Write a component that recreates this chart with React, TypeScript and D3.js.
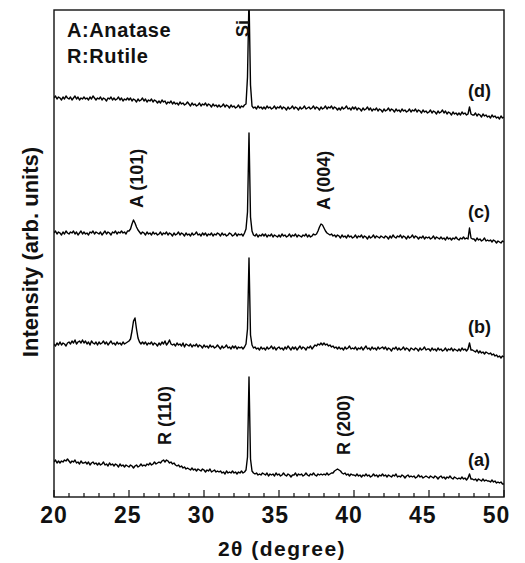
import React, { useRef, useEffect } from "react";
import * as d3 from "d3";

// scan: 20-50 deg, 0.1 deg step (one row = one degree)
const scanStart = 20;
const scanStep = 0.1;

// intensities (arb. units, traces already offset)
const traceA = [
  35, 37, 34, 36, 34, 36, 35, 37, 36, 38,
  36, 34, 36, 35, 37, 34, 35, 33, 36, 34,
  34, 35, 33, 35, 32, 34, 35, 33, 34, 32,
  34, 32, 33, 35, 32, 33, 31, 34, 32, 33,
  31, 33, 32, 30, 33, 31, 32, 30, 32, 31,
  30, 32, 31, 29, 31, 32, 30, 31, 33, 31,
  32, 31, 33, 32, 34, 32, 33, 35, 33, 34,
  35, 34, 36, 37, 35, 37, 36, 34, 35, 33,
  34, 32, 31, 32, 30, 31, 29, 30, 28, 29,
  28, 27, 29, 27, 28, 26, 28, 27, 26, 28,
  27, 25, 27, 26, 28, 25, 26, 27, 25, 26,
  25, 26, 24, 25, 23, 26, 24, 25, 24, 26,
  24, 25, 23, 25, 24, 26, 24, 25, 27, 40,
  120, 38, 26, 24, 23, 24, 22, 23, 22, 24,
  23, 22, 24, 21, 23, 22, 23, 21, 24, 22,
  23, 21, 22, 24, 22, 21, 23, 22, 20, 22,
  22, 24, 21, 23, 22, 23, 21, 22, 24, 22,
  21, 23, 22, 24, 22, 21, 23, 22, 23, 22,
  23, 22, 24, 22, 23, 24, 24, 26, 27, 28,
  27, 26, 24, 23, 24, 22, 23, 21, 23, 22,
  22, 21, 23, 21, 22, 20, 22, 21, 23, 21,
  22, 20, 21, 23, 21, 22, 20, 22, 21, 23,
  21, 22, 20, 22, 21, 20, 22, 21, 23, 20,
  21, 20, 22, 21, 19, 21, 22, 20, 21, 20,
  21, 19, 20, 22, 20, 21, 19, 20, 21, 20,
  19, 21, 20, 19, 21, 20, 18, 20, 21, 19,
  20, 18, 20, 19, 21, 19, 18, 20, 19, 18,
  19, 18, 20, 18, 19, 17, 19, 23, 18, 18,
  17, 18, 16, 18, 17, 16, 18, 16, 17, 16,
  16, 15, 17, 15, 16, 14, 15, 14, 15, 13,
  13,
];

const traceB = [
  153, 151, 154, 152, 155, 152, 154, 153, 151, 154,
  155, 153, 156, 154, 157, 153, 155, 156, 154, 157,
  154, 156, 153, 155, 152, 156, 154, 153, 155, 152,
  155, 153, 154, 156, 153, 155, 152, 154, 156, 153,
  154, 152, 155, 153, 154, 152, 155, 153, 154, 155,
  156, 158, 166, 176, 179, 168, 159, 155, 153, 155,
  153, 155, 152, 154, 153, 155, 152, 154, 153, 151,
  154, 152, 155, 153, 156, 152, 154, 157, 153, 152,
  153, 151, 154, 152, 153, 151, 154, 150, 153, 152,
  151, 153, 150, 152, 151, 153, 150, 152, 151, 149,
  152, 150, 151, 149, 152, 150, 151, 149, 150, 152,
  150, 148, 151, 149, 150, 152, 149, 150, 148, 151,
  149, 151, 148, 150, 149, 150, 148, 150, 153, 168,
  239, 162, 152, 149, 150, 148, 149, 147, 150, 148,
  149, 147, 150, 148, 149, 151, 148, 150, 147, 149,
  150, 148, 149, 147, 150, 148, 151, 149, 147, 150,
  148, 150, 147, 149, 151, 148, 150, 149, 147, 150,
  149, 151, 148, 150, 152, 151, 153, 152, 154, 152,
  154, 152, 153, 151, 152, 150, 151, 149, 150, 148,
  150, 148, 149, 147, 150, 148, 149, 151, 148, 149,
  148, 150, 147, 149, 148, 150, 147, 149, 151, 148,
  149, 147, 150, 148, 149, 147, 150, 148, 149, 150,
  148, 150, 147, 149, 148, 146, 149, 148, 150, 147,
  149, 147, 148, 150, 147, 149, 148, 146, 149, 148,
  147, 149, 148, 146, 149, 147, 148, 150, 147, 148,
  148, 146, 149, 147, 148, 146, 149, 147, 148, 146,
  147, 149, 146, 148, 147, 149, 146, 148, 147, 146,
  148, 146, 149, 147, 148, 146, 148, 154, 147, 147,
  146, 145, 147, 144, 146, 144, 145, 143, 145, 144,
  143, 144, 142, 143, 141, 142, 140, 141, 139, 141,
  140,
];

const traceC = [
  264, 266, 263, 265, 264, 262, 265, 263, 266, 264,
  263, 265, 264, 266, 263, 265, 262, 264, 266, 263,
  265, 263, 264, 262, 265, 264, 266, 263, 265, 264,
  263, 265, 262, 264, 266, 263, 265, 264, 262, 265,
  264, 266, 263, 265, 264, 266, 264, 265, 263, 266,
  266, 268, 273, 277, 274, 270, 267, 265, 263, 265,
  264, 262, 265, 263, 264, 262, 265, 263, 264, 262,
  263, 265, 262, 264, 263, 265, 262, 264, 263, 261,
  264, 262, 263, 265, 262, 264, 263, 261, 264, 262,
  263, 261, 264, 262, 263, 265, 262, 263, 261, 264,
  262, 264, 261, 263, 262, 264, 261, 263, 262, 264,
  263, 261, 264, 262, 263, 261, 262, 264, 263, 261,
  262, 264, 261, 263, 262, 263, 261, 264, 268, 285,
  364, 280, 266, 262, 261, 263, 260, 262, 261, 263,
  261, 263, 260, 262, 261, 263, 260, 262, 261, 260,
  262, 260, 263, 261, 262, 260, 261, 263, 260, 262,
  261, 263, 260, 262, 261, 260, 262, 261, 263, 260,
  262, 260, 261, 263, 262, 263, 266, 270, 273, 272,
  269, 266, 264, 263, 262, 263, 261, 262, 260, 262,
  261, 259, 262, 260, 261, 259, 262, 260, 261, 259,
  260, 262, 259, 261, 260, 262, 259, 261, 260, 258,
  261, 259, 260, 262, 259, 261, 260, 259, 261, 260,
  259, 261, 260, 258, 261, 259, 262, 260, 259, 261,
  260, 262, 259, 261, 260, 258, 261, 259, 260, 262,
  259, 261, 260, 258, 260, 259, 261, 258, 260, 259,
  260, 258, 259, 261, 258, 260, 259, 258, 260, 258,
  259, 257, 260, 258, 259, 257, 259, 258, 260, 258,
  257, 259, 258, 260, 258, 259, 258, 269, 259, 258,
  258, 256, 259, 257, 258, 256, 257, 259, 256, 257,
  256, 257, 255, 257, 256, 254, 256, 255, 254, 256,
  255,
];

const traceD = [
  399, 401, 398, 400, 399, 397, 400, 398, 401, 399,
  398, 400, 397, 399, 401, 398, 400, 397, 399, 398,
  400, 398, 399, 397, 400, 398, 401, 399, 397, 399,
  398, 400, 397, 399, 398, 396, 399, 398, 400, 397,
  399, 397, 398, 400, 397, 399, 396, 398, 397, 399,
  397, 399, 396, 398, 397, 395, 398, 396, 397, 399,
  396, 398, 395, 397, 396, 398, 395, 397, 396, 394,
  396, 394, 397, 395, 396, 393, 395, 394, 396, 393,
  395, 393, 394, 392, 395, 393, 394, 392, 393, 395,
  393, 391, 394, 392, 393, 391, 392, 394, 391, 393,
  392, 394, 391, 393, 392, 390, 393, 391, 392, 390,
  392, 390, 391, 393, 390, 392, 391, 389, 392, 390,
  391, 389, 390, 392, 389, 391, 390, 392, 393, 420,
  500, 412, 391, 389, 390, 388, 391, 389, 390, 388,
  390, 388, 391, 389, 390, 388, 389, 391, 388, 390,
  389, 391, 388, 390, 389, 387, 390, 388, 389, 391,
  388, 390, 389, 387, 390, 388, 389, 391, 388, 389,
  390, 388, 389, 391, 388, 390, 389, 387, 390, 388,
  389, 391, 388, 390, 389, 391, 388, 390, 389, 387,
  389, 387, 390, 388, 389, 391, 388, 389, 387, 390,
  388, 390, 387, 389, 388, 386, 389, 387, 388, 390,
  387, 389, 386, 388, 387, 389, 386, 388, 387, 385,
  388, 386, 387, 389, 386, 388, 387, 385, 388, 386,
  387, 385, 388, 386, 387, 385, 386, 388, 385, 387,
  386, 388, 385, 387, 386, 384, 387, 385, 386, 384,
  385, 387, 384, 386, 385, 383, 386, 384, 385, 387,
  384, 386, 383, 385, 384, 382, 385, 383, 384, 382,
  384, 382, 385, 383, 384, 382, 383, 390, 383, 382,
  382, 384, 381, 383, 382, 380, 383, 381, 382, 380,
  381, 379, 382, 380, 381, 379, 380, 378, 381, 379,
  380,
];

const traces = [traceA, traceB, traceC, traceD];
const traceNames = ["(a)", "(b)", "(c)", "(d)"];
// where each name sits: [2theta, intensity]
const traceNamePos = [
  [47.6, 31],
  [47.6, 164],
  [47.6, 279],
  [47.6, 400],
];

// peak labels: text, 2theta, intensity where the label starts
const peakLabels = [
  { text: "Si", x: 32.6, y: 460 },
  { text: "A (101)", x: 25.5, y: 289 },
  { text: "A (004)", x: 38.0, y: 287 },
  { text: "R (110)", x: 27.4, y: 52 },
  { text: "R (200)", x: 39.3, y: 42 },
];

const phaseLegend = ["A:Anatase", "R:Rutile"];
const xTicks = [20, 25, 30, 35, 40, 45, 50];

const FONT = "'Liberation Sans', Arial, Helvetica, sans-serif";

const App = () => {
  const svgRef = useRef<SVGSVGElement>(null);

  useEffect(() => {
    const width = 525;
    const height = 563;
    const m = { left: 54, right: 21, top: 10, bottom: 66 };
    const x0 = m.left;
    const x1 = width - m.right;
    const y0 = height - m.bottom;
    const y1 = m.top;

    const x = d3.scaleLinear().domain([20, 50]).range([x0, x1]);
    const y = d3.scaleLinear().domain([0, 487]).range([y0, y1]);

    const svg = d3.select(svgRef.current);
    svg.selectAll("*").remove();

    svg
      .append("defs")
      .append("clipPath")
      .attr("id", "plotClip")
      .append("rect")
      .attr("x", x0)
      .attr("y", y1)
      .attr("width", x1 - x0)
      .attr("height", y0 - y1);

    const line = d3
      .line<number>()
      .x((_, i) => x(scanStart + i * scanStep))
      .y((d) => y(d));

    svg
      .append("g")
      .attr("clip-path", "url(#plotClip)")
      .selectAll("path")
      .data(traces)
      .enter()
      .append("path")
      .attr("d", (d) => line(d))
      .attr("fill", "none")
      .attr("stroke", "#000")
      .attr("stroke-width", 1.4)
      .attr("stroke-linejoin", "round");

    // frame
    svg
      .append("rect")
      .attr("x", x0)
      .attr("y", y1)
      .attr("width", x1 - x0)
      .attr("height", y0 - y1)
      .attr("fill", "none")
      .attr("stroke", "#111")
      .attr("stroke-width", 1.4);

    // bottom ticks, pointing inwards
    const minor = d3.range(20, 51, 1);
    svg
      .append("g")
      .selectAll("line")
      .data(minor)
      .enter()
      .append("line")
      .attr("x1", (d) => x(d))
      .attr("x2", (d) => x(d))
      .attr("y1", y0)
      .attr("y2", (d) => (d % 5 === 0 ? y0 - 7 : y0 - 4))
      .attr("stroke", "#111")
      .attr("stroke-width", 1.2);

    svg
      .append("g")
      .selectAll("text")
      .data(xTicks)
      .enter()
      .append("text")
      .attr("x", (d) => x(d) - (d - 20) * 0.25)
      .attr("y", 523)
      .attr("text-anchor", "middle")
      .attr("font-family", FONT)
      .attr("font-weight", "bold")
      .attr("font-size", 23)
      .attr("letter-spacing", 1)
      .attr("fill", "#111")
      .text((d) => d);

    svg
      .append("text")
      .attr("x", 282)
      .attr("y", 556)
      .attr("text-anchor", "middle")
      .attr("font-family", FONT)
      .attr("font-weight", "bold")
      .attr("font-size", 21)
      .attr("letter-spacing", 1.5)
      .attr("fill", "#111")
      .text("2θ (degree)");

    svg
      .append("text")
      .attr("transform", "translate(38,252) rotate(-90)")
      .attr("text-anchor", "middle")
      .attr("font-family", FONT)
      .attr("font-weight", "bold")
      .attr("font-size", 22)
      .attr("fill", "#111")
      .text("Intensity (arb. units)");

    // phase legend
    svg
      .append("g")
      .selectAll("text")
      .data(phaseLegend)
      .enter()
      .append("text")
      .attr("x", 67)
      .attr("y", (_, i) => 37 + i * 26)
      .attr("font-family", FONT)
      .attr("font-weight", "bold")
      .attr("font-size", 20)
      .attr("letter-spacing", 0.6)
      .attr("fill", "#111")
      .text((d) => d);

    // rotated peak labels
    svg
      .append("g")
      .selectAll("text")
      .data(peakLabels)
      .enter()
      .append("text")
      .attr("transform", (d) => `translate(${x(d.x) + 6},${y(d.y)}) rotate(-90)`)
      .attr("font-family", FONT)
      .attr("font-weight", "bold")
      .attr("font-size", 18)
      .attr("fill", "#111")
      .text((d) => d.text);

    // trace names
    svg
      .append("g")
      .selectAll("text")
      .data(traceNames)
      .enter()
      .append("text")
      .attr("x", (_, i) => x(traceNamePos[i][0]))
      .attr("y", (_, i) => y(traceNamePos[i][1]))
      .attr("font-family", FONT)
      .attr("font-weight", "bold")
      .attr("font-size", 18)
      .attr("fill", "#111")
      .text((d) => d);
  }, []);

  return (
    <svg
      ref={svgRef}
      width={525}
      height={563}
      style={{ position: "absolute", left: 0, top: 0, background: "#fff" }}
    />
  );
};

export default App;
